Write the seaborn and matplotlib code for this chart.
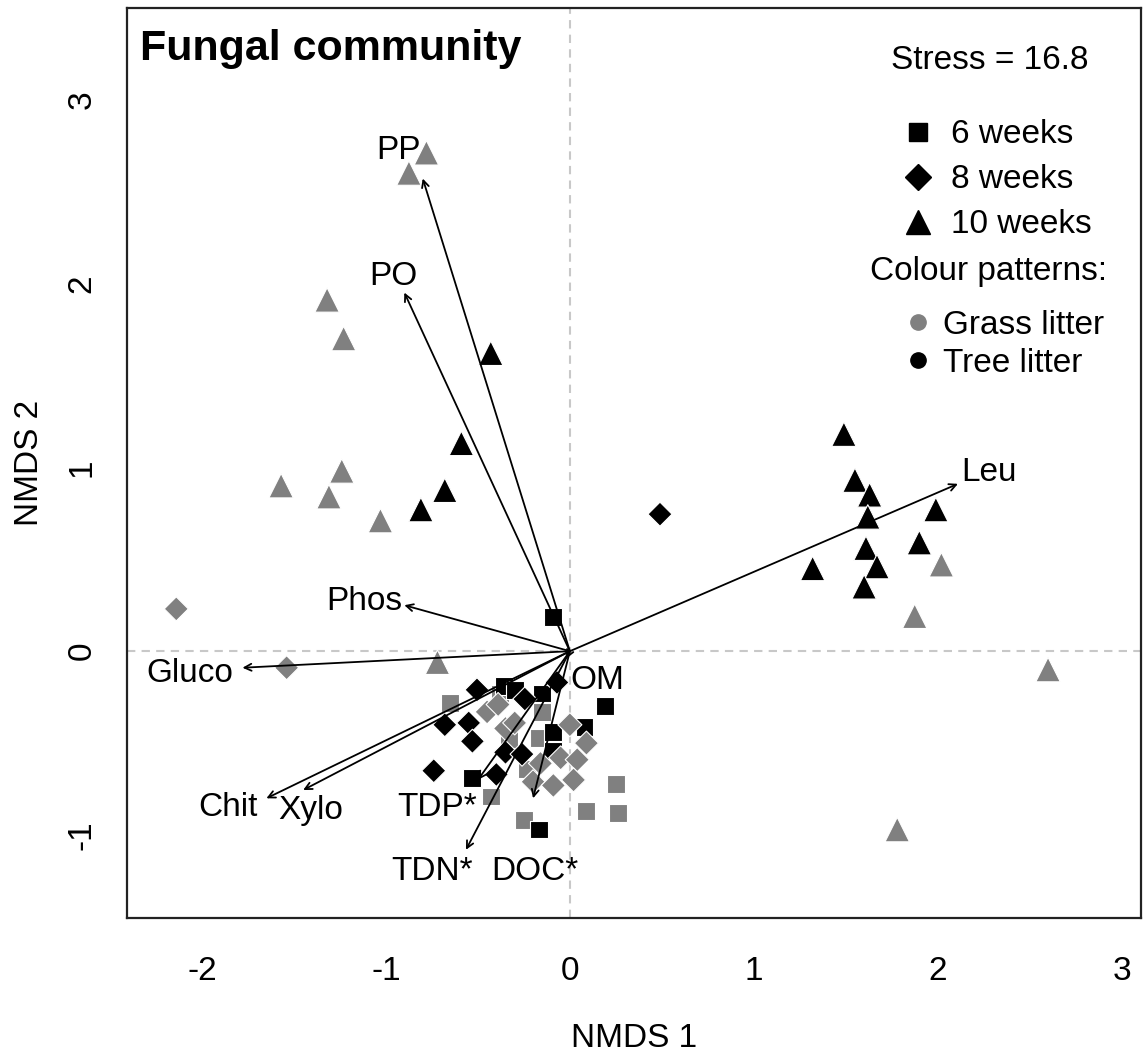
import numpy as np
import pandas as pd
import seaborn as sns
import matplotlib.pyplot as plt
from matplotlib.lines import Line2D

# --- site scores ---
sq_tree_x = [-0.09, -0.36, -0.30, -0.15, 0.19, -0.53, -0.17, -0.09, 0.08, -0.09]
sq_tree_y = [0.185, -0.19, -0.21, -0.23, -0.30, -0.69, -0.97, -0.44, -0.41, -0.54]
sq_grass_x = [-0.65, -0.15, -0.43, -0.25, 0.25, 0.09, 0.26, -0.235, -0.17, -0.33, -0.38]
sq_grass_y = [-0.28, -0.33, -0.79, -0.92, -0.72, -0.87, -0.88, -0.64, -0.47, -0.48, -0.23]

dm_tree_x = [0.49, -0.07, -0.505, -0.245, -0.68, -0.55, -0.53, -0.74, -0.40, -0.35, -0.26]
dm_tree_y = [0.745, -0.17, -0.21, -0.26, -0.40, -0.39, -0.49, -0.65, -0.67, -0.55, -0.56]
dm_grass_x = [-2.14, -1.54, -0.45, -0.39, -0.35, -0.30, 0.0, 0.09, -0.05, 0.04, -0.16, -0.20, -0.09, 0.02]
dm_grass_y = [0.23, -0.09, -0.33, -0.29, -0.42, -0.39, -0.40, -0.50, -0.58, -0.59, -0.61, -0.71, -0.73, -0.70]

tr_grass_x = [-0.78, -0.875, -1.32, -1.23, -1.24, -1.57, -1.31, -1.03, -0.72, 2.02, 1.875, 2.60, 1.78]
tr_grass_y = [2.71, 2.60, 1.91, 1.70, 0.98, 0.90, 0.84, 0.71, -0.06, 0.47, 0.19, -0.10, -0.97]
tr_tree_x = [-0.43, -0.59, -0.68, -0.81, 1.49, 1.55, 1.63, 1.62, 1.99, 1.90, 1.61, 1.32, 1.67, 1.60]
tr_tree_y = [1.62, 1.13, 0.875, 0.77, 1.18, 0.93, 0.85, 0.73, 0.77, 0.59, 0.56, 0.45, 0.46, 0.35]

# --- fitted environmental vectors ---
env_names = ["PP", "PO", "Leu", "Phos", "Gluco", "Chit", "Xylo", "TDP*", "TDN*", "DOC*", "OM"]
env_x = [-0.80, -0.90, 2.11, -0.90, -1.78, -1.65, -1.45, -0.50, -0.565, -0.20, -0.02]
env_y = [2.57, 1.95, 0.91, 0.25, -0.09, -0.80, -0.755, -0.70, -1.08, -0.80, -0.04]

week_order = ["6 weeks", "8 weeks", "10 weeks"]
litter_order = ["Grass litter", "Tree litter"]

frames = []
for wk, lit, xs, ys in [
    ("6 weeks", "Grass litter", sq_grass_x, sq_grass_y),
    ("6 weeks", "Tree litter", sq_tree_x, sq_tree_y),
    ("8 weeks", "Grass litter", dm_grass_x, dm_grass_y),
    ("8 weeks", "Tree litter", dm_tree_x, dm_tree_y),
    ("10 weeks", "Grass litter", tr_grass_x, tr_grass_y),
    ("10 weeks", "Tree litter", tr_tree_x, tr_tree_y),
]:
    frames.append(pd.DataFrame({"NMDS1": xs, "NMDS2": ys, "week": wk, "litter": lit}))
df = pd.concat(frames, ignore_index=True)

sns.set_style("white")
plt.rcParams["font.family"] = ["Liberation Sans", "DejaVu Sans"]
plt.rcParams["axes.unicode_minus"] = False
for key in ["text.color", "axes.labelcolor", "xtick.color", "ytick.color"]:
    plt.rcParams[key] = "black"

palette = {"Grass litter": "#808080", "Tree litter": "black"}
markers = {"6 weeks": "s", "8 weeks": "D", "10 weeks": "^"}
msize = {"6 weeks": 165, "8 weeks": 150, "10 weeks": 310}

fig = plt.figure(figsize=(11.44, 10.54), dpi=100)
ax = fig.add_axes([0.111, 0.129, 0.886, 0.863])

ax.axhline(0, color="#c8c8c8", lw=1.5, ls=(0, (4, 3)), zorder=1)
ax.axvline(0, color="#c8c8c8", lw=1.5, ls=(0, (4, 3)), zorder=1)

for wk in week_order:
    sub = df[df["week"] == wk]
    sns.scatterplot(data=sub, x="NMDS1", y="NMDS2", hue="litter", palette=palette,
                    marker=markers[wk], s=msize[wk], edgecolor="white", linewidth=0.8,
                    legend=False, ax=ax, zorder=2)

# arrows + labels
label_pos = {"PP": (-0.93, 2.72), "PO": (-0.96, 2.04), "Leu": (2.28, 0.97),
             "Phos": (-1.12, 0.27), "Gluco": (-2.065, -0.12), "Chit": (-1.86, -0.85),
             "Xylo": (-1.41, -0.865), "TDP*": (-0.72, -0.85), "TDN*": (-0.75, -1.20),
             "DOC*": (-0.19, -1.20), "OM": (0.15, -0.16)}
for name, ex, ey in zip(env_names, env_x, env_y):
    ax.annotate("", xy=(ex, ey), xytext=(0, 0),
                arrowprops=dict(arrowstyle="->,head_length=0.5,head_width=0.25",
                                color="black", lw=1.3, shrinkA=0, shrinkB=0),
                zorder=3)
    lx, ly = label_pos[name]
    ax.text(lx, ly, name, fontsize=24, ha="center", va="center", zorder=4)

ax.set_xlim(-2.408, 3.103)
ax.set_ylim(-1.451, 3.495)
ax.set_xticks([-2, -1, 0, 1, 2, 3])
ax.set_yticks([-1, 0, 1, 2, 3])
ax.tick_params(axis="both", direction="out", length=12, width=1.5, labelsize=24,
               color="#222222")
ax.tick_params(axis="x", pad=15)
ax.tick_params(axis="y", pad=9)
for lab in ax.get_yticklabels():
    lab.set_rotation(90)
    lab.set_va("center")
ax.set_xlabel("NMDS 1", fontsize=24, labelpad=26)
ax.set_ylabel("NMDS 2", fontsize=24, labelpad=16)
for sp in ax.spines.values():
    sp.set_linewidth(1.6)
    sp.set_color("#222222")

ax.text(0.013, 0.955, "Fungal community", transform=ax.transAxes, fontsize=31,
        fontweight="bold", ha="left", va="center")
ax.text(0.851, 0.943, "Stress = 16.8", transform=ax.transAxes, fontsize=24,
        ha="center", va="center")
ax.text(0.967, 0.711, "Colour patterns:", transform=ax.transAxes, fontsize=24,
        ha="right", va="center")

week_handles = [Line2D([], [], marker=markers[w], color="black", ls="None",
                       markersize={"6 weeks": 13, "8 weeks": 13, "10 weeks": 17}[w])
                for w in week_order]
leg1 = ax.legend(week_handles, week_order, loc="upper left", bbox_to_anchor=(0.767, 0.878),
                 frameon=False, fontsize=24, handlelength=0.8, handletextpad=0.6,
                 labelspacing=0.42, borderpad=0, borderaxespad=0)
ax.add_artist(leg1)
col_handles = [Line2D([], [], marker="o", color=palette[l], ls="None", markersize=11)
               for l in litter_order]
ax.legend(col_handles, litter_order, loc="upper left", bbox_to_anchor=(0.767, 0.669),
          frameon=False, fontsize=24, handlelength=0.8, handletextpad=0.35,
          labelspacing=0.22, borderpad=0, borderaxespad=0)

plt.savefig("out.png", dpi=100)
